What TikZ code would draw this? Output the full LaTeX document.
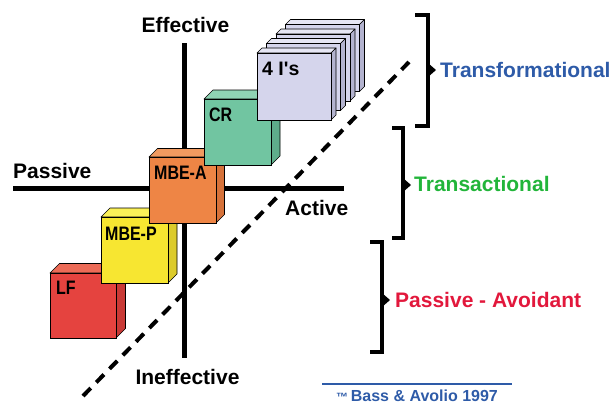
\documentclass[tikz,border=0pt]{standalone}
\usepackage{fontspec}
\setmainfont{Liberation Sans}
\newfontfamily\boxfont[FakeStretch=0.82]{Liberation Sans}
\newfontfamily\quotefont{Liberation Sans}

\definecolor{lffront}{HTML}{E5433F}\definecolor{lftop}{HTML}{EC6B57}\definecolor{lfside}{HTML}{C93A36}
\definecolor{mbepfront}{HTML}{F7E631}\definecolor{mbeptop}{HTML}{FBF158}\definecolor{mbepside}{HTML}{DCCB2B}
\definecolor{mbeafront}{HTML}{EE8545}\definecolor{mbeatop}{HTML}{F19A60}\definecolor{mbeaside}{HTML}{D6723A}
\definecolor{crfront}{HTML}{71C5A1}\definecolor{crtop}{HTML}{8FD3B4}\definecolor{crside}{HTML}{5EAD8B}
\definecolor{fourfront}{HTML}{D5D5EC}\definecolor{fourtop}{HTML}{E6E6F4}\definecolor{fourside}{HTML}{B3B3CF}
\definecolor{tfblue}{HTML}{2E5BA8}
\definecolor{tagreen}{HTML}{22B53A}
\definecolor{pared}{HTML}{E2183C}

% box: colour prefix, x, y (front top left), width, height, depth
\newcommand{\drawcube}[6]{%
\filldraw[fill=#1top, draw=black, line width=0.6pt, line join=round] (#2,#3) -- ++(#4,0) -- ++(#6,-#6) -- ++(-#4,0) -- cycle;
\filldraw[fill=#1side, draw=black, line width=0.6pt, line join=round] (#2+#4,#3) -- ++(#6,-#6) -- ++(0,#5) -- ++(-#6,#6) -- cycle;
\filldraw[fill=#1front, draw=black, line width=0.6pt] (#2,#3) rectangle ++(#4,#5);
}

\tikzset{
  axis/.style={line width=5pt},
  bracket/.style={line width=3.5pt},
  dashline/.style={line width=4pt, dash pattern=on 11pt off 8pt},
  axislabel/.style={font=\fontsize{21}{24}\selectfont\bfseries, inner sep=0pt, anchor=base},
  stylelabel/.style={font=\fontsize{21}{24}\selectfont\bfseries, inner sep=0pt, anchor=base west},
  boxlabel/.style={font=\boxfont\fontsize{19.5}{22}\selectfont\bfseries, inner sep=0pt, anchor=base west}
}

\begin{document}
\begin{tikzpicture}[x=1pt, y=-1pt]
\useasboundingbox (0,0) rectangle (611,405);

%% axes
\coordinate (ytop) at (184,43);
\coordinate (ybot) at (184,358);
\coordinate (xleft) at (13,188);
\coordinate (xright) at (344,188);
\draw[axis] (ytop) -- (ybot);
\draw[axis] (xleft) -- (xright);
\node[axislabel] (eff) at (185.5,32) {Effective};
\node[axislabel] (ineff) at (187.5,384) {Ineffective};
\node[axislabel, anchor=base west] (pass) at (13,178) {Passive};
\node[axislabel, anchor=base west] (act) at (285,215) {Active};

%% dashed diagonal
\coordinate (dlow) at (83,396);
\coordinate (dhigh) at (409,62);
\draw[dashline] (dlow) -- (dhigh);

%% boxes
\drawcube{lf}{50}{273}{66}{65}{9.5}
\node[boxlabel] (lf) at (56,294) {LF};
\drawcube{mbep}{101}{217}{67}{66}{9}
\node[boxlabel] (mbep) at (105,240) {MBE-P};
\drawcube{mbea}{149}{157}{67}{66}{8.5}
\node[boxlabel] (mbea) at (154,179) {MBE-A};
\drawcube{cr}{204}{99}{67}{66}{9}
\node[boxlabel] (cr) at (209,121) {CR};
\foreach \k in {3,2,1,0}
  \drawcube{four}{257+9.5*\k}{53-9.5*\k}{74}{67}{5};
\node[boxlabel, font=\quotefont\fontsize{19.5}{22}\selectfont\bfseries] (four) at (262,75) {4 I's};

%% brackets
\draw[bracket] (415,15) -| (428,126) -- (415,126);
\fill (428,63) -- (436,70) -- (428,77) -- cycle;
\node[stylelabel, text=tfblue] (transf) at (440,77) {Transformational};

\draw[bracket] (392,128) -| (403,238) -- (392,238);
\fill (403,178) -- (411,185) -- (403,192) -- cycle;
\node[stylelabel, text=tagreen] (transa) at (414,191) {Transactional};

\draw[bracket] (370,242) -| (382,352) -- (370,352);
\fill (382,293) -- (390,300) -- (382,307) -- cycle;
\node[stylelabel, text=pared] (passav) at (395,307) {Passive - Avoidant};

%% source
\coordinate (sl) at (322,384);
\coordinate (sr) at (512,384);
\draw[tfblue, line width=1.6pt] (sl) -- (sr);
\node[font=\fontsize{16}{18}\selectfont\bfseries, text=tfblue, inner sep=0pt, anchor=base west] (src) at (336,401) {{\fontsize{12}{12}\selectfont ™}\,Bass \& Avolio 1997};
\end{tikzpicture}
\end{document}
